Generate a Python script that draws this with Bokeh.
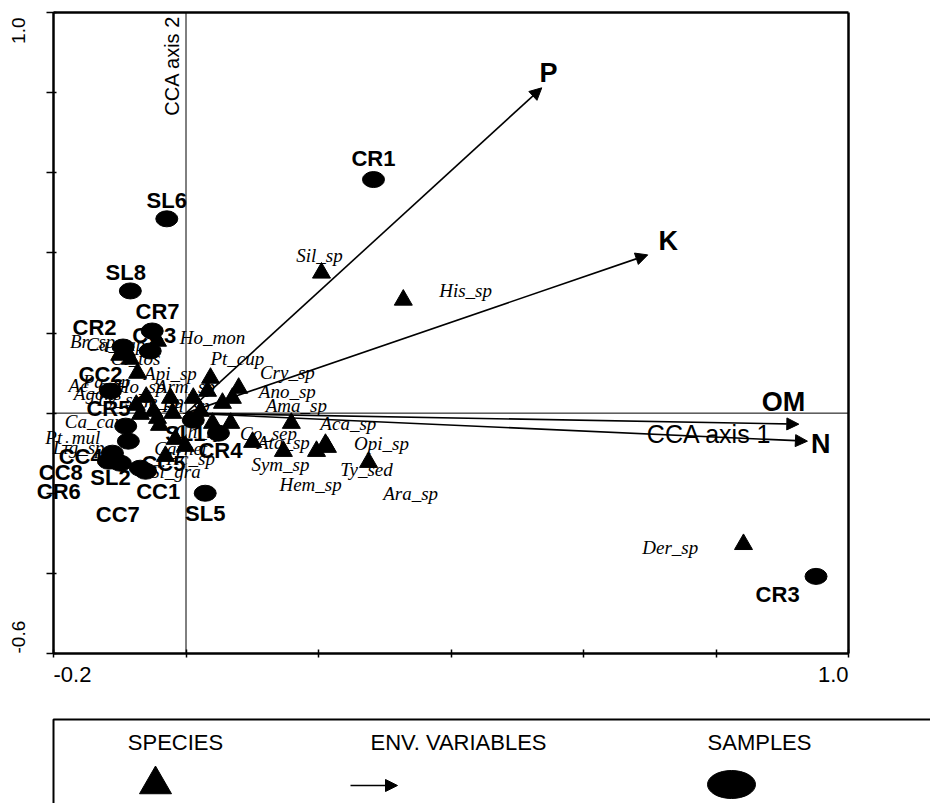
import math
from bokeh.plotting import figure
from bokeh.models import (Range1d, FixedTicker, LinearAxis,
                          ColumnDataSource, Arrow, NormalHead)
from bokeh.layouts import column
from bokeh.embed import file_html
from bokeh.resources import INLINE
from bokeh.core.properties import value

# ---------------- data (CCA scores) ----------------
species = ["Sil_sp", "His_sp", "Der_sp", "Aca_sp", "Opi_sp", "Hem_sp", "Sym_sp",
           "Ty_sed", "Ara_sp", "Ata_sp", "Co_sep", "Cry_sp", "Ano_sp", "Ama_sp",
           "Pt_cup", "Api_sp", "Ho_mon", "Cl_tos", "Ca_cap", "Br_sp", "Ca_car",
           "Pt_mul", "Lig_sp", "Carnet", "Hc_sp", "Si_gra", "Agons", "Ac_ant",
           "Ho_sp", "Arm_sp", "Pa_sp", "Ly_sp", "Ge_sp", "Ph_sp", "Ch_sp"]
species_x = [0.2045, 0.328, 0.8415, 0.159, 0.2105, 0.197, 0.147,
             0.2755, 0.2135, 0.1005, 0.0675, 0.0795, 0.070, 0.055,
             0.037, -0.073, -0.043, -0.084, -0.090, -0.100, -0.0687,
             -0.043, -0.049, -0.016, -0.001, -0.031, -0.0235, 0.011,
             0.0325, 0.022, -0.060, -0.075, -0.040, -0.020, 0.040]
species_y = [0.350, 0.2825, -0.3275, -0.025, -0.0775, -0.095, -0.095,
             -0.1225, -0.085, -0.0725, -0.025, 0.0625, 0.0375, 0.025,
             0.0875, 0.100, 0.180, 0.135, 0.155, 0.145, -0.0025,
             -0.0125, 0.005, -0.065, -0.0825, -0.1075, 0.0375, 0.0375,
             0.055, 0.005, 0.040, 0.020, -0.030, 0.000, -0.025]
species_label_x = [0.2015, 0.422, 0.731, 0.245, 0.295, 0.188, 0.1425,
                   0.2725, 0.339, 0.147, 0.1245, 0.153, 0.153, 0.1665,
                   0.0775, -0.0235, 0.040, -0.076, -0.106, -0.141, -0.140,
                   -0.171, -0.162, -0.008, 0.007, -0.016, -0.1335, -0.1366,
                   -0.0687, -0.001, -0.120, -0.100, -0.040, 0.000, 0.020]
species_label_y = [0.3925, 0.305, -0.335, -0.025, -0.075, -0.1775, -0.1275,
                   -0.140, -0.200, -0.0725, -0.050, 0.1025, 0.055, 0.020,
                   0.1375, 0.100, 0.190, 0.1375, 0.1725, 0.180, -0.020,
                   -0.060, -0.085, -0.0875, -0.1125, -0.145, 0.050, 0.070,
                   0.0675, 0.0675, 0.080, 0.035, 0.030, 0.020, -0.045]

samples = ["CR1", "SL6", "SL8", "CR7", "CC3", "CR2", "CC2", "CR5", "SL1", "CR4",
           "CC4", "CC5", "CC8", "SL2", "CR6", "CC1", "CC7", "SL5", "CR3"]
sample_x = [0.283, -0.029, -0.084, -0.051, -0.054, -0.095, -0.114, -0.091, 0.011, 0.049,
            -0.087, -0.069, -0.111, -0.106, -0.117, -0.061, -0.099, 0.029, 0.951]
sample_y = [0.583, 0.485, 0.305, 0.205, 0.155, 0.165, 0.055, -0.0325, -0.0175, -0.050,
            -0.070, -0.1375, -0.100, -0.120, -0.120, -0.145, -0.125, -0.200, -0.4075]
sample_label_x = [0.283, -0.029, -0.091, -0.043, -0.048, -0.138, -0.129, -0.117, -0.001, 0.052,
                  -0.159, -0.034, -0.189, -0.114, -0.192, -0.042, -0.103, 0.029, 0.893]
sample_label_y = [0.635, 0.530, 0.350, 0.2525, 0.195, 0.2125, 0.0975, 0.0125, -0.050, -0.0925,
                  -0.1075, -0.125, -0.1475, -0.160, -0.195, -0.195, -0.2525, -0.250, -0.4525]

env_vars = ["P", "K", "OM", "N"]
env_x = [0.537, 0.697, 0.925, 0.938]
env_y = [0.812, 0.395, -0.0275, -0.070]
env_label_x = [0.547, 0.728, 0.902, 0.958]
env_label_y = [0.850, 0.430, 0.0275, -0.0775]

x_ticks = [-0.2, 0.0, 0.2, 0.4, 0.6, 0.8, 1.0]
y_ticks = [-0.6, -0.4, -0.2, 0.0, 0.2, 0.4, 0.6, 0.8, 1.0]
x_tick_text = ["-0.2", "1.0"]          # only the end ticks are labelled
y_tick_text = ["-0.6", "1.0"]
axis_titles = ["CCA axis 1", "CCA axis 2"]
legend_labels = ["SPECIES", "ENV. VARIABLES", "SAMPLES"]

X_MIN, X_MAX = x_ticks[0], x_ticks[-1]
Y_MIN, Y_MAX = y_ticks[0], y_ticks[-1]

SANS = "Liberation Sans"
SERIF = "Liberation Serif"

# ---------------- page geometry (pixels) ----------------
W, H = 930, 715
FL, FR, FT, FB = 53, 848, 12, 653          # plot box edges
sx = (FR - FL) / (X_MAX - X_MIN)            # px per data unit
sy = (FB - FT) / (Y_MAX - Y_MIN)
x_range = Range1d(X_MIN - FL / sx, X_MAX + (W - FR) / sx)
y_range = Range1d(Y_MIN - (H - FB) / sy, Y_MAX + FT / sy)

p = figure(width=W, height=H, x_range=x_range, y_range=y_range,
           output_backend="svg", toolbar_location=None,
           x_axis_type=None, y_axis_type=None, min_border=0)
p.grid.visible = False
p.outline_line_color = None
p.background_fill_color = "white"
p.border_fill_color = "white"

xax = LinearAxis(fixed_location=Y_MIN, bounds=(X_MIN, X_MAX),
                 ticker=FixedTicker(ticks=x_ticks),
                 major_label_overrides={t: "" for t in x_ticks},
                 axis_line_width=2.5, major_tick_line_width=1.5,
                 major_tick_out=4, major_tick_in=4, minor_tick_line_color=None)
yax = LinearAxis(fixed_location=X_MIN, bounds=(Y_MIN, Y_MAX),
                 ticker=FixedTicker(ticks=y_ticks),
                 major_label_overrides={t: "" for t in y_ticks},
                 axis_line_width=2.5, major_tick_line_width=1.5,
                 major_tick_out=7, major_tick_in=3, minor_tick_line_color=None)
p.add_layout(xax, "below")
p.add_layout(yax, "left")

# top and right border of the plot box
p.segment(x0=[X_MIN, X_MAX], y0=[Y_MAX, Y_MAX], x1=[X_MAX, X_MAX], y1=[Y_MAX, Y_MIN],
          line_color="black", line_width=2.5)
# CCA axes through the origin
p.segment(x0=[0, X_MIN], y0=[Y_MIN, 0], x1=[0, X_MAX], y1=[Y_MAX, 0],
          line_color="black", line_width=1)

# end tick labels
p.text(x=[X_MIN, X_MAX], y=[Y_MIN - 13 / sy] * 2, text=x_tick_text,
       text_font=value(SANS), text_font_size="22px",
       text_align=["left", "right"], text_baseline="top", text_color="black")
p.text(x=[X_MIN - 35 / sx] * 2, y=[Y_MIN, Y_MAX - 5 / sy], text=y_tick_text,
       text_font=value(SANS), text_font_size="19px", angle=math.pi / 2,
       text_align=["left", "right"], text_baseline="middle", text_color="black")

# axis names
p.text(x=[0.79], y=[-0.0525], text=[axis_titles[0]], text_font=value(SANS),
       text_font_size="25px", text_align="center", text_baseline="alphabetic",
       text_color="black")
p.text(x=[-3 / sx], y=[0.7425], text=[axis_titles[1]], text_font=value(SANS),
       text_font_size="20px", angle=math.pi / 2, text_align="left",
       text_baseline="bottom", text_color="black")

# environmental arrows
env_src = ColumnDataSource(dict(x0=[0.0] * len(env_vars), y0=[0.0] * len(env_vars),
                                x=env_x, y=env_y, lx=env_label_x, ly=env_label_y,
                                name=env_vars))
p.add_layout(Arrow(source=env_src, x_start="x0", y_start="y0", x_end="x", y_end="y",
                   line_color="black", line_width=1.6,
                   end=NormalHead(size=12, line_color="black", fill_color="black")))

# species
sp_src = ColumnDataSource(dict(x=species_x, y=species_y, lx=species_label_x,
                               ly=species_label_y, name=species))
p.scatter("x", "y", source=sp_src, marker="triangle", size=18,
          fill_color="black", line_color="black")

# samples
sa_src = ColumnDataSource(dict(x=sample_x, y=sample_y, lx=sample_label_x,
                               ly=sample_label_y, name=samples))
p.ellipse("x", "y", source=sa_src, width=22, height=16, width_units="screen",
          height_units="screen", fill_color="black", line_color="black")

p.text("lx", "ly", text="name", source=sp_src, text_font=value(SERIF),
       text_font_style="italic", text_font_size="19px", text_align="center",
       text_baseline="middle", text_color="black")
p.text("lx", "ly", text="name", source=sa_src, text_font=value(SANS),
       text_font_style="bold", text_font_size="22px", text_align="center",
       text_baseline="middle", text_color="black")
p.text("lx", "ly", text="name", source=env_src, text_font=value(SANS),
       text_font_style="bold", text_font_size="27px", text_align="center",
       text_baseline="middle", text_color="black")

# ---------------- legend panel (pixel-like coordinates) ----------------
lg = figure(width=930, height=88, x_range=Range1d(0, 930), y_range=Range1d(88, 0),
            output_backend="svg", toolbar_location=None,
            x_axis_type=None, y_axis_type=None, min_border=0)
lg.grid.visible = False
lg.outline_line_color = None
lg.background_fill_color = "white"
lg.border_fill_color = "white"

lg.line(x=[53, 53, 940], y=[100, 4, 4], line_color="black", line_width=2)
legend_x = [175, 458, 759]
lg.text(x=legend_x, y=[27, 27, 27], text=legend_labels, text_font=value(SANS),
        text_font_size="22px", text_align="center", text_baseline="middle",
        text_color="black")
lg.scatter(x=[155], y=[69], marker="triangle", size=32, fill_color="black",
           line_color="black")
lg.add_layout(Arrow(x_start=350, y_start=70, x_end=397, y_end=70, line_color="black",
                    line_width=1.6,
                    end=NormalHead(size=12, line_color="black", fill_color="black")))
lg.ellipse(x=[731], y=[69], width=48, height=28, fill_color="black", line_color="black")

layout = column(p, lg, spacing=0)
open("out.html", "w").write(file_html(layout, INLINE))
